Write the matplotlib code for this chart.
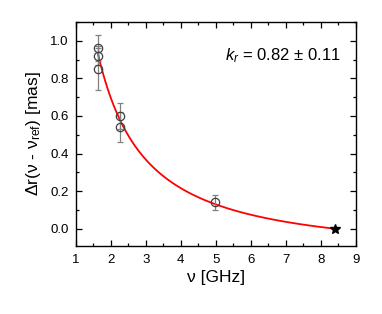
import numpy as np
import matplotlib
matplotlib.use("Agg")
import matplotlib.pyplot as plt
from matplotlib.ticker import MultipleLocator

plt.rcParams['font.family'] = ['Liberation Sans', 'DejaVu Sans']
plt.rcParams['mathtext.fontset'] = 'custom'
plt.rcParams['mathtext.rm'] = 'Liberation Sans'
plt.rcParams['mathtext.it'] = 'Liberation Sans:italic'

# measured core shifts
freq = [1.64, 1.64, 1.64, 2.27, 2.27, 4.98]
shift = [0.96, 0.92, 0.85, 0.60, 0.54, 0.14]
shift_err = [0.07, 0.05, 0.11, 0.07, 0.08, 0.04]

# reference frequency
freq_ref = 8.41
shift_ref = 0.0

# fit: dr = A * (nu^(-1/kr) - nu_ref^(-1/kr))
kr = 0.82
A = 1.966

fig = plt.figure(figsize=(3.82, 3.14), dpi=100)
ax = fig.add_axes([0.198, 0.2175, 0.734, 0.7125])

nu = np.linspace(freq[0], freq_ref, 300)
fit = A * (nu ** (-1 / kr) - freq_ref ** (-1 / kr))
ax.plot(nu, fit, color='red', lw=1.3, zorder=2)

ax.errorbar(freq, shift, yerr=shift_err, fmt='o', mfc='none', mec='#404040',
            ms=6, mew=0.9, ecolor='#808080', elinewidth=0.9, capsize=2.5,
            capthick=0.9, zorder=3)
ax.plot([freq_ref], [shift_ref], marker='*', color='black', ms=7, zorder=4)

ax.text(5.27, 0.92, r'$k_r$ = 0.82 ± 0.11', fontsize=12, va='center')

ax.set_xlim(1, 9)
ax.set_ylim(-0.09, 1.1)
ax.xaxis.set_major_locator(MultipleLocator(1))
ax.xaxis.set_minor_locator(MultipleLocator(0.5))
ax.yaxis.set_major_locator(MultipleLocator(0.2))
ax.yaxis.set_minor_locator(MultipleLocator(0.1))
ax.yaxis.set_major_formatter(plt.FormatStrFormatter('%.1f'))
ax.tick_params(which='both', direction='in', top=True, right=True, labelsize=9.5)
ax.tick_params(which='major', length=4, width=0.9)
ax.tick_params(which='minor', length=2, width=0.9)
ax.tick_params(axis='x', which='major', pad=6)
ax.tick_params(axis='y', which='major', pad=5)
for s in ax.spines.values():
    s.set_linewidth(1.0)

ax.set_xlabel('ν [GHz]', fontsize=12.5, labelpad=3)
ax.set_ylabel(r'$\Delta$r(ν - ν$_{\mathregular{ref}}$) [mas]', fontsize=12.5, labelpad=5)

fig.savefig('out.png', dpi=100)
